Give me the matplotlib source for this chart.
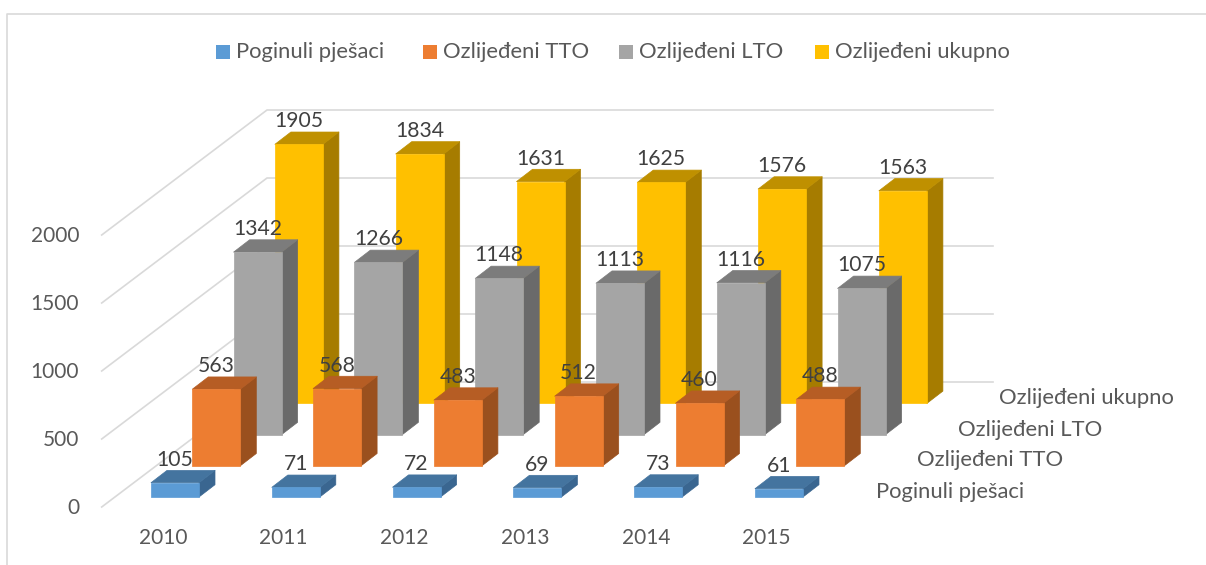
import matplotlib
matplotlib.use("Agg")
import matplotlib.pyplot as plt
from matplotlib.patches import Polygon, Rectangle

years = ["2010", "2011", "2012", "2013", "2014", "2015"]
series_names = ["Poginuli pješaci", "Ozlijeđeni TTO", "Ozlijeđeni LTO", "Ozlijeđeni ukupno"]
poginuli = [105, 71, 72, 69, 73, 61]
ozlijedeni_tto = [563, 568, 483, 512, 460, 488]
ozlijedeni_lto = [1342, 1266, 1148, 1113, 1116, 1075]
ozlijedeni_ukupno = [1905, 1834, 1631, 1625, 1576, 1563]
value_ticks = [0, 500, 1000, 1500, 2000]

# colours: front, top, side
colors = [("#5B9BD5", "#44749F", "#3A6690"),
          ("#ED7D31", "#B65D24", "#9A501E"),
          ("#A5A5A5", "#7C7C7C", "#6A6A6A"),
          ("#FFC000", "#BF9000", "#A67C00")]

plt.rcParams["font.family"] = ["Lato", "DejaVu Sans"]

W, H = 1206, 565
fig = plt.figure(figsize=(W / 100, H / 100), dpi=100)
ax = fig.add_axes([0, 0, 1, 1])
ax.set_xlim(0, W)
ax.set_ylim(H, 0)
ax.axis("off")

# oblique projection, all in pixels of the figure
PX_PER_UNIT = 0.136
BAR_W = 48.0
YEAR_STEP = 120.8
SERIES_DX, SERIES_DY = 41.3, -31.2
DEPTH_DX, DEPTH_DY = 16.0, -12.3
X0, Y0 = 151.0, 497.0
NUM_SIZE = 15.2
TICK_SIZE = 15
TEXT_SIZE = 15.8


def front_left(year_i, series_i, value=0):
    x = X0 + year_i * YEAR_STEP + series_i * SERIES_DX
    y = Y0 + series_i * SERIES_DY - value * PX_PER_UNIT
    return x, y


def draw_bar(year_i, series_i, value):
    front, top, side = colors[series_i]
    x, y = front_left(year_i, series_i, value)
    _, y_base = front_left(year_i, series_i)
    edge = dict(linewidth=0.5, joinstyle="round", zorder=3 + series_i * -0.5)
    ax.add_patch(Polygon([(x + BAR_W, y), (x + BAR_W + DEPTH_DX, y + DEPTH_DY),
                          (x + BAR_W + DEPTH_DX, y_base + DEPTH_DY), (x + BAR_W, y_base)],
                         facecolor=side, edgecolor=side, **edge))
    ax.add_patch(Polygon([(x, y), (x + DEPTH_DX, y + DEPTH_DY),
                          (x + BAR_W + DEPTH_DX, y + DEPTH_DY), (x + BAR_W, y)],
                         facecolor=top, edgecolor=top, **edge))
    ax.add_patch(Rectangle((x, y), BAR_W, y_base - y, facecolor=front,
                           edgecolor=front, **edge))
    ax.text(x + BAR_W / 2, y - 23, str(value), ha="center", va="center",
            fontsize=NUM_SIZE, color="#404040", zorder=10)


# chart frame
ax.plot([6.8, 6.8, W], [H, 13.7, 13.7], color="#D9D9D9", lw=1.2, zorder=0)

# gridlines: floor edge, back wall
for v in value_ticks:
    y = v * PX_PER_UNIT
    ax.plot([101.7, 267, 993], [507 - y, 382 - y, 382 - y], color="#D9D9D9", lw=1.2, zorder=1)
    ax.text(79, 507.5 - y, str(v), ha="right", va="center", fontsize=TICK_SIZE, color="#595959")

all_series = [poginuli, ozlijedeni_tto, ozlijedeni_lto, ozlijedeni_ukupno]
for s in range(len(all_series) - 1, -1, -1):
    for i, val in enumerate(all_series[s]):
        draw_bar(i, s, val)

for i, yr in enumerate(years):
    ax.text(163 + i * 120.7, 537.5, yr, ha="center", va="center", fontsize=TICK_SIZE, color="#595959")

for s, name in enumerate(series_names):
    ax.text(876 + s * 41, 491.5 - s * 31, name, ha="left", va="center", fontsize=TEXT_SIZE, color="#595959")

# legend
swatch_x = [216, 423, 619, 815]
for s, name in enumerate(series_names):
    ax.add_patch(Rectangle((swatch_x[s], 45), 14, 14, facecolor=colors[s][0], edgecolor="none"))
    ax.text(swatch_x[s] + 20, 52, name, ha="left", va="center", fontsize=TEXT_SIZE, color="#595959")

fig.savefig("out.png", dpi=100)
